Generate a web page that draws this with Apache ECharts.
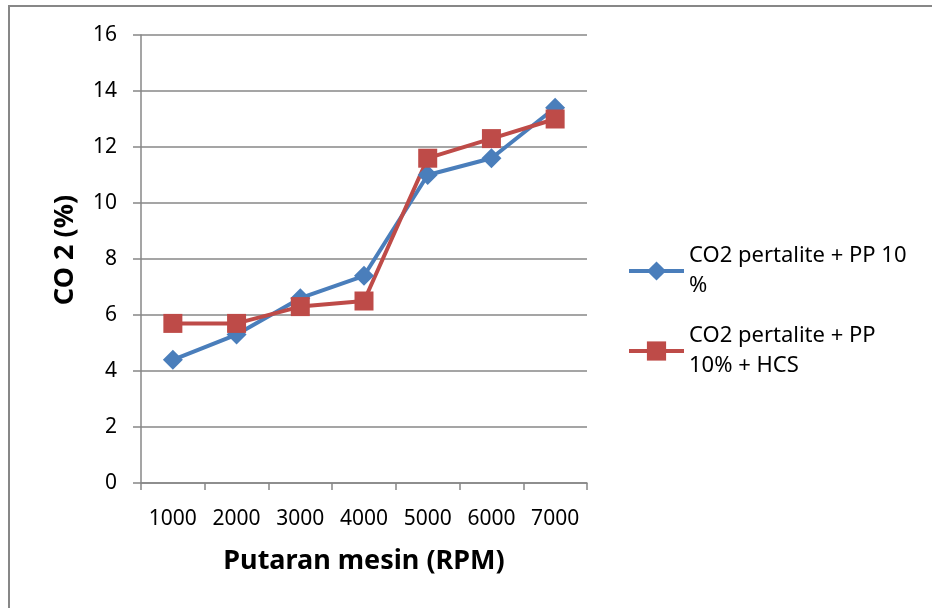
<!DOCTYPE html>
<html>
<head>
<meta charset="utf-8">
<script src="https://cdn.jsdelivr.net/npm/echarts@6/dist/echarts.min.js"></script>
<style>
  html, body { margin: 0; padding: 0; background: #fff; }
  #main { width: 932px; height: 608px; }
</style>
</head>
<body>
<div id="main"></div>
<script>
// data
var rpm = ['1000', '2000', '3000', '4000', '5000', '6000', '7000'];
var co2Pp10 = [4.4, 5.3, 6.6, 7.4, 11.0, 11.6, 13.4];
var co2Pp10Hcs = [5.7, 5.7, 6.3, 6.5, 11.6, 12.3, 13.0];
var seriesNames = ['CO2 pertalite + PP 10 %', 'CO2 pertalite + PP 10% + HCS'];
var legendLines = {
    'CO2 pertalite + PP 10 %': 'CO2 pertalite + PP 10\n%',
    'CO2 pertalite + PP 10% + HCS': 'CO2 pertalite + PP\n10% + HCS'
};

var gray = '#878787';
var font = '"Noto Sans", "Open Sans", sans-serif';

var myChart = echarts.init(document.getElementById('main'));
myChart.setOption({
    backgroundColor: '#fff',
    animation: false,
    grid: { left: 141, right: 345, top: 35, bottom: 125, containLabel: false },
    graphic: [{
        type: 'rect',
        shape: { x: 9, y: 6, width: 1000, height: 800 },
        style: { fill: 'none', stroke: gray, lineWidth: 2 },
        silent: true
    }],
    legend: {
        orient: 'vertical',
        left: 627,
        top: 226,
        padding: 0,
        itemWidth: 55,
        itemHeight: 24,
        itemGap: -10,
        data: seriesNames,
        lineStyle: { width: 4 },
        formatter: function (name) { return legendLines[name]; },
        textStyle: {
            fontFamily: font,
            fontSize: 22,
            color: '#000',
            lineHeight: 30,
            padding: [30, 0, 0, 0]
        }
    },
    xAxis: {
        type: 'category',
        data: rpm,
        boundaryGap: true,
        name: 'Putaran mesin (RPM)',
        nameLocation: 'middle',
        nameGap: 65,
        nameTextStyle: { fontFamily: font, fontSize: 27, fontWeight: 'bold', color: '#000' },
        axisLine: { lineStyle: { color: gray, width: 1.5 } },
        axisTick: { show: true, length: 7, alignWithLabel: false, lineStyle: { color: gray, width: 1.5 } },
        axisLabel: { interval: 0, margin: 26, fontFamily: font, fontSize: 21, color: '#000' },
        splitLine: { show: false }
    },
    yAxis: {
        type: 'value',
        min: 0,
        max: 16,
        interval: 2,
        name: 'CO 2 (%)',
        nameLocation: 'middle',
        nameGap: 62,
        nameRotate: 90,
        nameTextStyle: { fontFamily: font, fontSize: 27, fontWeight: 'bold', color: '#000', padding: [0, 0, 0, 18] },
        axisLine: { show: true, lineStyle: { color: gray, width: 1.5 } },
        axisTick: { show: true, length: 8, lineStyle: { color: gray, width: 1.5 } },
        axisLabel: { margin: 24, fontFamily: font, fontSize: 21, color: '#000' },
        splitLine: { show: true, lineStyle: { color: gray, width: 1.5 } }
    },
    series: [
        {
            name: seriesNames[0],
            type: 'line',
            data: co2Pp10,
            symbol: 'diamond',
            symbolSize: 20,
            color: '#4A7EBB',
            lineStyle: { width: 4, color: '#4A7EBB' },
            itemStyle: { color: '#4A7EBB' }
        },
        {
            name: seriesNames[1],
            type: 'line',
            data: co2Pp10Hcs,
            symbol: 'rect',
            symbolSize: 19,
            color: '#BE4B48',
            lineStyle: { width: 4, color: '#BE4B48' },
            itemStyle: { color: '#BE4B48' }
        }
    ]
});
</script>
</body>
</html>
